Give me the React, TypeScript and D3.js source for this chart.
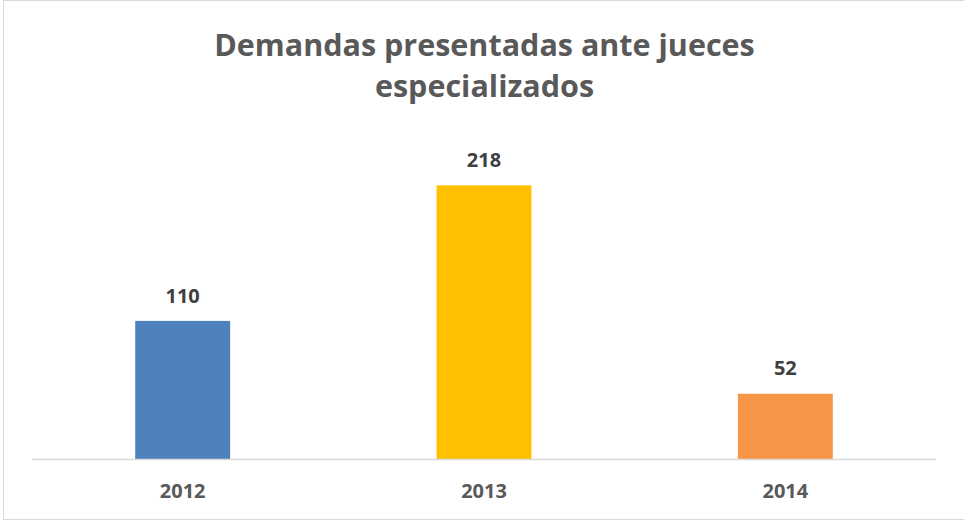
import React from "react";
import * as d3 from "d3";

const categories = ["2012", "2013", "2014"];
const values = [110, 218, 52];
const barColors = ["#4F81BD", "#FFC000", "#F79646"];
const titleLines = ["Demandas presentadas ante jueces", "especializados"];

const W = 964;
const H = 522;

export default function App() {
  const x = d3.scaleBand<string>().domain(categories).range([32, 936]).padding(0);
  const y = d3.scaleLinear().domain([0, 250]).range([459, 459 - 250 * 1.2555]);
  const barW = x.bandwidth() * 0.315;
  const font = "'Open Sans', 'Noto Sans', sans-serif";

  return (
    <svg
      width={W}
      height={H}
      style={{ position: "absolute", left: 0, top: 0, background: "#fff" }}
      fontFamily={font}
    >
      <rect x={3.5} y={0.5} width={W + 10} height={519} fill="#fff" stroke="#D9D9D9" strokeWidth={1} />
      {titleLines.map((t, i) => (
        <text
          key={t}
          x={484.5}
          y={55.5 + i * 41}
          textAnchor="middle"
          fontSize={30.5}
          fontWeight={700}
          fill="#595959"
        >
          {t}
        </text>
      ))}
      {categories.map((c, i) => {
        const cx = (x(c) as number) + x.bandwidth() / 2;
        return (
          <g key={c}>
            <rect
              x={cx - barW / 2}
              y={y(values[i])}
              width={barW}
              height={y(0) - y(values[i])}
              fill={barColors[i]}
            />
            <text
              x={cx}
              y={y(values[i]) - 18.3}
              textAnchor="middle"
              fontSize={20}
              fontWeight={700}
              fill="#404040"
            >
              {values[i]}
            </text>
            <text x={cx} y={498.3} textAnchor="middle" fontSize={20} fontWeight={700} fill="#595959">
              {c}
            </text>
          </g>
        );
      })}
      <line x1={32} x2={936} y1={459.5} y2={459.5} stroke="#D9D9D9" strokeWidth={1.5} />
    </svg>
  );
}
